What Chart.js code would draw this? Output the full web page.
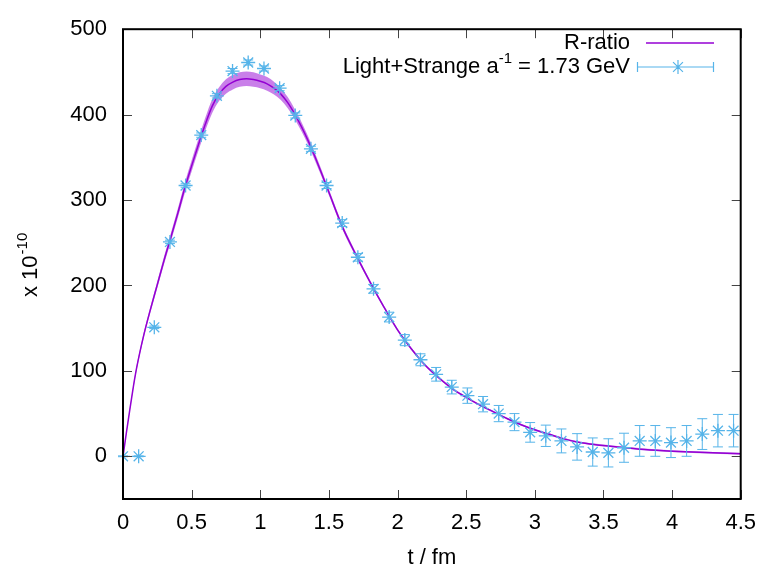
<!DOCTYPE html>
<html lang="en">
<head>
<meta charset="UTF-8">
<title>R-ratio vs lattice</title>
<script src="https://cdn.jsdelivr.net/npm/chart.js@4.4.1/dist/chart.umd.min.js"></script>
<style>
  html, body { margin: 0; padding: 0; background: #fff; }
  #wrap { width: 767px; height: 571px; }
</style>
</head>
<body>
<div id="wrap"><canvas id="chart" width="767" height="571"></canvas></div>
<script>
// lattice times (fm), a^-1 = 1.73 GeV
const latT = [0, 0.114, 0.228, 0.342, 0.456, 0.570, 0.684, 0.798, 0.912, 1.027,
  1.141, 1.255, 1.369, 1.483, 1.597, 1.711, 1.825, 1.939, 2.053, 2.167,
  2.281, 2.395, 2.509, 2.623, 2.737, 2.852, 2.966, 3.080, 3.194, 3.308,
  3.422, 3.536, 3.650, 3.764, 3.878, 3.992, 4.106, 4.220, 4.334, 4.448];
const latY = [0, 0, 151, 251, 317, 376, 422, 451, 461, 454,
  431, 399, 360, 317, 273, 233, 196, 163, 136, 113,
  96, 81, 71, 61, 50, 40, 28, 24, 18, 11,
  5, 4, 10, 18, 18, 16, 18, 26, 30, 30];
const latErr = [0.5, 0.5, 1.5, 2, 2, 2.5, 2.5, 3, 3, 3,
  3, 3, 3, 3.5, 4, 4.5, 5, 5.7, 6.5, 7,
  8, 8, 9, 9, 9.5, 10, 11.5, 12.5, 14, 15.5,
  16.5, 16.5, 17, 18, 18, 17.5, 18, 18, 19, 19];

// R-ratio curve and its error band
const curveT = [0, 0.025, 0.05, 0.075, 0.1, 0.15, 0.2, 0.25, 0.3, 0.35, 0.4, 0.45,
  0.5, 0.55, 0.6, 0.65, 0.7, 0.75, 0.8, 0.85, 0.9, 0.95, 1.0, 1.05, 1.1, 1.15,
  1.2, 1.25, 1.3, 1.35, 1.4, 1.45, 1.5, 1.6, 1.7, 1.8, 1.9, 2.0, 2.1, 2.2, 2.3,
  2.4, 2.5, 2.6, 2.7, 2.8, 2.9, 3.0, 3.1, 3.2, 3.3, 3.4, 3.6, 3.8, 4.0, 4.2, 4.5];
const curveY = [0, 28, 55, 81, 104, 141, 172, 201, 230, 257, 285, 314,
  340, 365, 389, 410, 424, 433, 438, 441, 442, 441, 439, 436, 431, 424,
  414, 401, 386, 369, 350, 330, 309, 268, 235, 204, 175, 148, 126, 107, 92,
  79, 69, 60, 52, 44, 37, 31, 26, 21, 17, 14.5, 11, 8, 6, 4.6, 3];
const curveErr = [0, 1, 1.5, 2, 2.5, 3, 3.5, 4, 4.5, 5, 5.5, 6,
  6.5, 7, 7.5, 8, 8, 8.5, 8.5, 8.5, 8.5, 8.5, 8, 8, 7.5, 7,
  6.5, 6, 5.5, 5, 4.5, 4, 3.5, 3, 2.5, 2, 1.8, 1.6, 1.5, 1.4, 1.3,
  1.2, 1.1, 1, 1, 1, 1, 1, 1, 1, 1, 1, 1, 1, 1, 1, 1];

const xTicks = [0, 0.5, 1, 1.5, 2, 2.5, 3, 3.5, 4, 4.5];
const yTicks = [0, 100, 200, 300, 400, 500];

const FONT = '"Liberation Sans", Arial, sans-serif';
const violet = '#9400d3';
const sky = '#56b4e9';

const pts = (xs, ys) => xs.map((x, i) => ({ x: x, y: ys[i] }));

// error bars, frame, inward ticks, axis title and legend
const extras = {
  id: 'extras',
  afterDatasetsDraw(chart) {
    const ctx = chart.ctx, x = chart.scales.x, y = chart.scales.y;
    ctx.save();
    ctx.strokeStyle = sky;
    ctx.lineWidth = 1;
    latT.forEach((t, i) => {
      const px = x.getPixelForValue(t);
      const lo = y.getPixelForValue(latY[i] - latErr[i]);
      const hi = y.getPixelForValue(latY[i] + latErr[i]);
      ctx.beginPath();
      ctx.moveTo(px, lo); ctx.lineTo(px, hi);
      ctx.moveTo(px - 5, lo); ctx.lineTo(px + 5, lo);
      ctx.moveTo(px - 5, hi); ctx.lineTo(px + 5, hi);
      ctx.stroke();
    });
    ctx.restore();
  },
  afterDraw(chart) {
    const ctx = chart.ctx, a = chart.chartArea, x = chart.scales.x, y = chart.scales.y;
    ctx.save();
    // ticks on all four sides
    ctx.strokeStyle = '#444';
    ctx.lineWidth = 1;
    ctx.beginPath();
    xTicks.forEach(v => {
      const px = Math.round(x.getPixelForValue(v)) + 0.5;
      ctx.moveTo(px, a.bottom); ctx.lineTo(px, a.bottom - 9);
      ctx.moveTo(px, a.top); ctx.lineTo(px, a.top + 9);
    });
    yTicks.forEach(v => {
      const py = Math.round(y.getPixelForValue(v)) + 0.5;
      ctx.moveTo(a.left, py); ctx.lineTo(a.left + 9, py);
      ctx.moveTo(a.right, py); ctx.lineTo(a.right - 9, py);
    });
    ctx.stroke();
    // frame
    ctx.strokeStyle = '#000';
    ctx.lineWidth = 2;
    ctx.strokeRect(a.left, a.top, a.right - a.left, a.bottom - a.top);

    // y axis title "x 10^-10"
    ctx.fillStyle = '#000';
    ctx.translate(37, 297);
    ctx.rotate(-Math.PI / 2);
    ctx.textBaseline = 'alphabetic';
    ctx.textAlign = 'left';
    ctx.font = '22px ' + FONT;
    ctx.fillText('x 10', 0, 0);
    let w = ctx.measureText('x 10').width;
    ctx.font = '15px ' + FONT;
    ctx.fillText('-10', w + 1, -10);
    ctx.setTransform(1, 0, 0, 1, 0, 0);

    // legend
    const right = 630;
    ctx.font = '22px ' + FONT;
    ctx.textAlign = 'right';
    ctx.textBaseline = 'middle';
    ctx.fillText('R-ratio', right, 43);
    ctx.strokeStyle = violet;
    ctx.lineWidth = 1.5;
    ctx.beginPath();
    ctx.moveTo(646, 43); ctx.lineTo(714, 43);
    ctx.stroke();

    const tail = ' = 1.73 GeV';
    ctx.fillText(tail, right, 67);
    const tw = ctx.measureText(tail).width;
    ctx.font = '15px ' + FONT;
    const sup = '-1';
    const sw = ctx.measureText(sup).width;
    ctx.fillText(sup, right - tw, 59);
    ctx.font = '22px ' + FONT;
    ctx.fillText('Light+Strange a', right - tw - sw, 67);

    ctx.strokeStyle = sky;
    ctx.lineWidth = 1.2;
    ctx.beginPath();
    ctx.moveTo(637, 67); ctx.lineTo(714, 67);
    ctx.moveTo(637.5, 62); ctx.lineTo(637.5, 72);
    ctx.moveTo(713.5, 62); ctx.lineTo(713.5, 72);
    // asterisk
    const cx = 678, cy = 67, r = 7;
    ctx.moveTo(cx - r, cy); ctx.lineTo(cx + r, cy);
    ctx.moveTo(cx, cy - r); ctx.lineTo(cx, cy + r);
    const d = r * 0.707;
    ctx.moveTo(cx - d, cy - d); ctx.lineTo(cx + d, cy + d);
    ctx.moveTo(cx - d, cy + d); ctx.lineTo(cx + d, cy - d);
    ctx.stroke();
    ctx.restore();
  }
};

const ctx = document.getElementById('chart').getContext('2d');
const chart = new Chart(ctx, {
  type: 'scatter',
  data: {
    datasets: [
      {
        label: 'band upper',
        data: pts(curveT, curveY.map((v, i) => v + curveErr[i])),
        showLine: true, pointRadius: 0, borderWidth: 0,
        borderColor: 'rgba(0,0,0,0)',
        backgroundColor: 'rgba(148,0,211,0.5)',
        fill: '+1', cubicInterpolationMode: 'monotone', order: 3
      },
      {
        label: 'band lower',
        data: pts(curveT, curveY.map((v, i) => v - curveErr[i])),
        showLine: true, pointRadius: 0, borderWidth: 0,
        borderColor: 'rgba(0,0,0,0)',
        fill: false, cubicInterpolationMode: 'monotone', order: 4
      },
      {
        label: 'R-ratio',
        data: pts(curveT, curveY),
        showLine: true, pointRadius: 0, borderWidth: 1.5,
        borderColor: violet, fill: false,
        cubicInterpolationMode: 'monotone', order: 2
      },
      {
        label: 'Light+Strange',
        data: pts(latT, latY),
        showLine: false, pointStyle: 'star', pointRadius: 7,
        borderColor: sky, backgroundColor: sky, pointBorderWidth: 1.3,
        order: 1
      }
    ]
  },
  options: {
    responsive: false,
    animation: false,
    layout: { padding: { top: 21, right: 24, left: 0, bottom: 0 } },
    plugins: { legend: { display: false }, tooltip: { enabled: false } },
    scales: {
      x: {
        type: 'linear', min: 0, max: 4.5,
        afterFit: s => { s.height = 72; },
        afterBuildTicks: s => { s.ticks = xTicks.map(v => ({ value: v })); },
        grid: { display: false, drawTicks: false },
        border: { display: false },
        ticks: {
          color: '#000', padding: 11, maxRotation: 0, autoSkip: false,
          font: { family: FONT, size: 22 },
          callback: v => String(v)
        },
        title: {
          display: true, text: 't / fm', color: '#000',
          font: { family: FONT, size: 22 }, padding: { top: 0, bottom: 0 }
        }
      },
      y: {
        type: 'linear', min: -50, max: 500,
        afterFit: s => { s.width = 123; },
        afterBuildTicks: s => { s.ticks = yTicks.map(v => ({ value: v })); },
        grid: { display: false, drawTicks: false },
        border: { display: false },
        ticks: {
          color: '#000', padding: 16, autoSkip: false,
          font: { family: FONT, size: 22 },
          callback: v => String(v)
        }
      }
    }
  },
  plugins: [extras]
});
</script>
</body>
</html>
